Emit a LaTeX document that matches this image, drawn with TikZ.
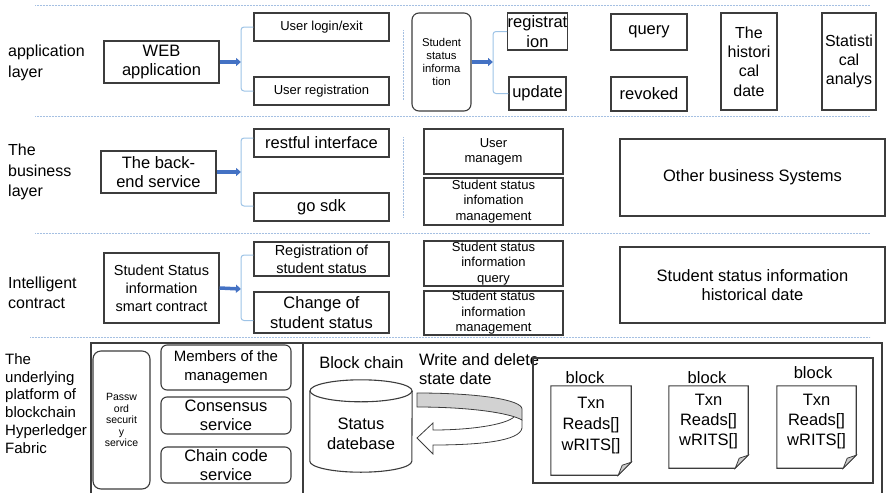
\documentclass[tikz,border=0pt]{standalone}
\usepackage{fontspec}
\setmainfont{Liberation Sans}
\usetikzlibrary{arrows.meta,positioning}
\definecolor{arrowblue}{RGB}{68,114,196}
\definecolor{bracketblue}{RGB}{157,195,230}
\definecolor{sepblue}{RGB}{165,192,226}
\definecolor{boxline}{RGB}{60,60,60}

\begin{document}
\begin{tikzpicture}[
        x=1pt, y=-1pt,
        box/.style={draw=boxline, line width=1.1pt, inner sep=0pt, align=center},
        rbox/.style={box, rounded corners=7pt},
        layer/.style={anchor=west, align=left, inner sep=0pt, font=\fontsize{16}{20.5}\selectfont},
        sep/.style={draw=sepblue, line width=0.9pt, dash pattern=on 0.8pt off 0.7pt},
        bracket/.style={draw=bracketblue, line width=1pt, rounded corners=3pt},
        arrow/.style={-{Triangle[length=5pt,width=8pt]}, line width=3.5pt, draw=arrowblue},
        fbig/.style={font=\fontsize{16.5}{19.5}\selectfont},
        fmid/.style={font=\fontsize{14.5}{18}\selectfont},
        fsmall/.style={font=\fontsize{13}{15.5}\selectfont},
        ftiny/.style={font=\fontsize{10.5}{11.5}\selectfont},
    ]
    \useasboundingbox (0,0) rectangle (886,493);

    % Layer separators
    \draw[sep] (35,5) -- (870,5);
    \draw[sep] (35,116) -- (870,116);
    \draw[sep] (35,233) -- (870,233);
    \draw[sep] (30,337) -- (870,337);
    \draw[sep] (403,30) -- (403,100);
    \draw[sep] (403,137) -- (403,217);

    % Application layer
    \node[layer] (applbl) at (8,63) {application\\layer};
    \node[box, fbig, minimum width=115pt, minimum height=42pt] (web) at (161.5,62) {WEB\\application};
    \node[box, fsmall, minimum width=135pt, minimum height=28pt] (login) at (321.5,27) {User login/exit};
    \node[box, fsmall, minimum width=135pt, minimum height=28pt] (ureg) at (321.5,91) {User registration};
    \node[rbox, font=\fontsize{11.3}{13.3}\selectfont, minimum width=59pt, minimum height=98pt] (stinfo) at (441.5,62) {Student\\status\\informa\\tion};
    \node[box, fbig, minimum width=57pt, minimum height=37pt] (regist) at (537.5,31.5) {registrat\\ion};
    \node[box, fbig, minimum width=57pt, minimum height=33pt] (update) at (537.5,93.5) {update};
    \node[box, fbig, minimum width=76pt, minimum height=36pt] (query) at (649,32) {query};
    \node[box, fbig, minimum width=76pt, minimum height=34pt] (revoked) at (649,94) {revoked};
    \node[box, font=\fontsize{16}{19.3}\selectfont, minimum width=56pt, minimum height=97pt] (hist) at (749,61.5) {The\\histori\\cal\\date};
    \node[box, font=\fontsize{16}{19}\selectfont, minimum width=54pt, minimum height=97pt] (stat) at (849,61.5) {Statisti\\cal\\analys};

    \coordinate (j1) at (241,62);
    \coordinate (j2) at (493,62);
    \draw[arrow] (web.east) -- (j1);
    \draw[bracket] (login.west) -| (j1) |- (ureg.west);
    \draw[arrow] (stinfo.east) -- (j2);
    \draw[bracket] (regist.west) -| (j2) |- (update.west);

    % Business layer
    \node[layer] (buslbl) at (8,172) {The\\business\\layer};
    \node[box, fbig, minimum width=115pt, minimum height=42pt] (backend) at (158.5,172) {The back-\\end service};
    \node[box, fbig, minimum width=135pt, minimum height=28pt] (restful) at (321.5,143) {restful interface};
    \node[box, fbig, minimum width=135pt, minimum height=28pt] (gosdk) at (321.5,207) {go sdk};
    \node[box, font=\fontsize{13}{15}\selectfont, minimum width=139pt, minimum height=45pt] (usermgm) at (493.5,151.5) {User\\managem};
    \node[box, font=\fontsize{13}{15.5}\selectfont, minimum width=139pt, minimum height=47pt] (ssimgm) at (493.5,201.5) {Student status\\infomation\\management};
    \node[box, fbig, minimum width=265pt, minimum height=77pt] (other) at (752.5,177.5) {Other business Systems};

    \coordinate (j3) at (241,172);
    \draw[arrow] (backend.east) -- (j3);
    \draw[bracket] ([yshift=5pt]restful.west) -| (j3) |- ([yshift=1pt]gosdk.west);

    % Intelligent contract
    \node[layer] (intlbl) at (8,293) {Intelligent\\contract};
    \node[box, fmid, minimum width=115pt, minimum height=70pt] (smart) at (161.5,288) {Student Status\\information\\smart contract};
    \node[box, fmid, minimum width=135pt, minimum height=34pt] (regss) at (321.5,259) {Registration of\\student status};
    \node[box, fbig, minimum width=135pt, minimum height=41pt] (chgss) at (321.5,312.5) {Change of\\student status};
    \node[box, fsmall, minimum width=139pt, minimum height=45pt] (ssiq) at (493.5,263.5) {Student status\\information\\query};
    \node[box, fsmall, minimum width=139pt, minimum height=44pt] (ssimg) at (493.5,313) {Student status\\information\\management};
    \node[box, fbig, minimum width=265pt, minimum height=76pt] (sshd) at (752.5,285) {Student status information\\historical date};

    \coordinate (j4) at (241,289);
    \draw[arrow] (smart.east) -- (j4);
    \draw[bracket] ([yshift=4pt]regss.west) -| (j4) |- ([yshift=-8pt]chgss.west);

    % Blockchain platform
    \node[layer, font=\fontsize{15}{17.8}\selectfont] (fablbl) at (5,403.5) {The\\underlying\\platform of\\blockchain\\Hyperledger\\Fabric};
    \draw[draw=boxline, line width=1.1pt] (91,493) -- (91,343) -- (882,343) -- (882,493);
    \draw[draw=boxline, line width=1.1pt] (303,343) -- (303,493);

    \node[rbox, ftiny, rounded corners=8pt, minimum width=57pt, minimum height=138pt] (pwd) at (121.5,420) {Passw\\ord\\securit\\y\\service};
    \node[rbox, font=\fontsize{15}{19}\selectfont, rounded corners=6pt, minimum width=130pt, minimum height=45pt] (members) at (226,367.5) {Members of the\\managemen};
    \node[rbox, fbig, rounded corners=6pt, minimum width=130pt, minimum height=37pt] (consensus) at (226,415.5) {Consensus\\service};
    \node[rbox, fbig, rounded corners=6pt, minimum width=130pt, minimum height=36pt] (chaincode) at (226,465) {Chain code\\service};

    \node[fbig] (bclbl) at (361.5,363) {Block chain};
    \node[minimum width=102pt, minimum height=92pt, inner sep=0pt] (db) at (361,426) {};
    \draw[draw=boxline, line width=1.1pt] ([yshift=-11pt]db.north west) -- ([yshift=11pt]db.south west)
        arc[start angle=180, end angle=360, x radius=51pt, y radius=11pt] -- ([yshift=-11pt]db.north east);
    \draw[draw=boxline, line width=1.1pt] ([yshift=-11pt]db.north) ellipse[x radius=51pt, y radius=11pt];
    \node[fbig, align=center] (dbtext) at ([yshift=-8pt]db.center) {Status\\datebase};

    \node[fbig, anchor=west, align=left, inner sep=0pt] (wrlbl) at (419,369) {Write and delete\\state date};

    % curved arrow
    \filldraw[fill=gray!35, draw=boxline, line width=0.8pt] (417,393) .. controls (480,393) and (522,400) .. (522,409)
        -- (522,420) .. controls (510,413) and (470,407) .. (417,407) -- cycle;
    \draw[draw=boxline, line width=0.8pt] (522,420) -- (522,428) .. controls (520,441) and (480,445) .. (433,445)
        -- (433,454) -- (417,438) -- (433,423) -- (433,430) .. controls (470,430) and (505,425) .. (514,417);

    \node[box, minimum width=340pt, minimum height=125pt] (blocks) at (703,420.5) {};
    \node[fbig] (bk1) at (585,378) {block};
    \node[fbig] (bk2) at (707,378) {block};
    \node[fbig] (bk3) at (813,373) {block};
    \node[minimum width=80pt, minimum height=89pt, inner sep=0pt] (doc1) at (591,430.5) {};
    \node[minimum width=79pt, minimum height=82pt, inner sep=0pt] (doc2) at (708.5,427) {};
    \node[minimum width=79pt, minimum height=82pt, inner sep=0pt] (doc3) at (816.5,427) {};
    \foreach \d in {doc1,doc2,doc3}{
        \draw[draw=boxline, line width=1.1pt] (\d.north west) -- (\d.north east) -- ([yshift=13pt]\d.south east)
            -- ([xshift=-13pt]\d.south east) -- (\d.south west) -- cycle;
        \filldraw[fill=gray!40, draw=boxline, line width=0.8pt] ([yshift=13pt]\d.south east) -- ([xshift=-13pt]\d.south east)
            -- ([xshift=-9pt,yshift=10pt]\d.south east) -- cycle;
    }
    \node[fbig, align=center, below=8pt of doc1.north, font=\fontsize{16.5}{21}\selectfont] (tx1) {Txn\\Reads[]\\wRITS[]};
    \node[fbig, align=center, below=5pt of doc2.north, font=\fontsize{16.5}{20}\selectfont] (tx2) {Txn\\Reads[]\\wRITS[]};
    \node[fbig, align=center, below=5pt of doc3.north, font=\fontsize{16.5}{20}\selectfont] (tx3) {Txn\\Reads[]\\wRITS[]};

\end{tikzpicture}
\end{document}
